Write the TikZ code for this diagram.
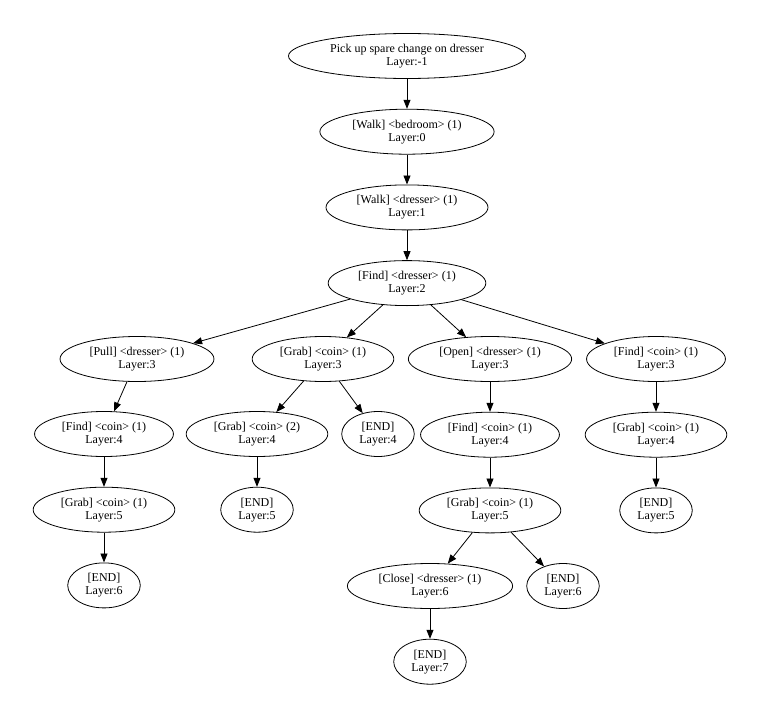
\documentclass[tikz,border=0pt]{standalone}
\usepackage{fontspec}
\setmainfont{Liberation Serif}
\usetikzlibrary{arrows.meta}
\usetikzlibrary{shapes.geometric}
\usetikzlibrary{positioning}

\begin{document}
\begin{tikzpicture}[x=1pt,y=-1pt,node distance=75.7pt,on grid,
    act/.style={ellipse,draw,line width=0.8pt,align=center,
      font=\fontsize{12}{13}\selectfont,inner xsep=7pt,inner ysep=1pt,minimum height=45pt},
    >={Triangle[length=9pt,width=7pt]}]

      \useasboundingbox (0,0) rectangle (761,720);

      \node[act] (task) at (407,56) {Pick up spare change on dresser\\Layer:-1};
      \node[act] (walk_bed) [below=of task] {[Walk] <bedroom> (1)\\Layer:0};
      \node[act] (walk_dres) [below=of walk_bed] {[Walk] <dresser> (1)\\Layer:1};
      \node[act] (find_dres) [below=of walk_dres] {[Find] <dresser> (1)\\Layer:2};

      % layer 3
      \node[act] (pull_dres) at (137,359) {[Pull] <dresser> (1)\\Layer:3};
      \node[act] (grab_a) at (323,359) {[Grab] <coin> (1)\\Layer:3};
      \node[act] (open_dres) at (490,359) {[Open] <dresser> (1)\\Layer:3};
      \node[act] (find_a) at (656,359) {[Find] <coin> (1)\\Layer:3};

      % layer 4
      \node[act] (find_b) at (104,434) {[Find] <coin> (1)\\Layer:4};
      \node[act] (grab_b) at (257,434) {[Grab] <coin> (2)\\Layer:4};
      \node[act] (end_a) at (378,434) {[END]\\Layer:4};
      \node[act] (find_c) [below=of open_dres] {[Find] <coin> (1)\\Layer:4};
      \node[act] (grab_c) [below=of find_a] {[Grab] <coin> (1)\\Layer:4};

      % layer 5
      \node[act] (grab_d) [below=of find_b] {[Grab] <coin> (1)\\Layer:5};
      \node[act] (end_b) [below=of grab_b] {[END]\\Layer:5};
      \node[act] (grab_e) [below=of find_c] {[Grab] <coin> (1)\\Layer:5};
      \node[act] (end_c) [below=of grab_c] {[END]\\Layer:5};

      % layer 6 and 7
      \node[act] (end_d) [below=of grab_d] {[END]\\Layer:6};
      \node[act] (close_dres) at (430,586) {[Close] <dresser> (1)\\Layer:6};
      \node[act] (end_e) at (563,586) {[END]\\Layer:6};
      \node[act] (end_f) [below=of close_dres] {[END]\\Layer:7};

      \path[->,line width=0.8pt]
      (task) edge (walk_bed)
      (walk_bed) edge (walk_dres)
      (walk_dres) edge (find_dres)
      (find_dres) edge (pull_dres)
      (find_dres) edge (grab_a)
      (find_dres) edge (open_dres)
      (find_dres) edge (find_a)
      (pull_dres) edge (find_b)
      (find_b) edge (grab_d)
      (grab_d) edge (end_d)
      (grab_a) edge (grab_b)
      (grab_a) edge (end_a)
      (grab_b) edge (end_b)
      (open_dres) edge (find_c)
      (find_c) edge (grab_e)
      (grab_e) edge (close_dres)
      (grab_e) edge (end_e)
      (close_dres) edge (end_f)
      (find_a) edge (grab_c)
      (grab_c) edge (end_c)
      ;
    \end{tikzpicture}
\end{document}
